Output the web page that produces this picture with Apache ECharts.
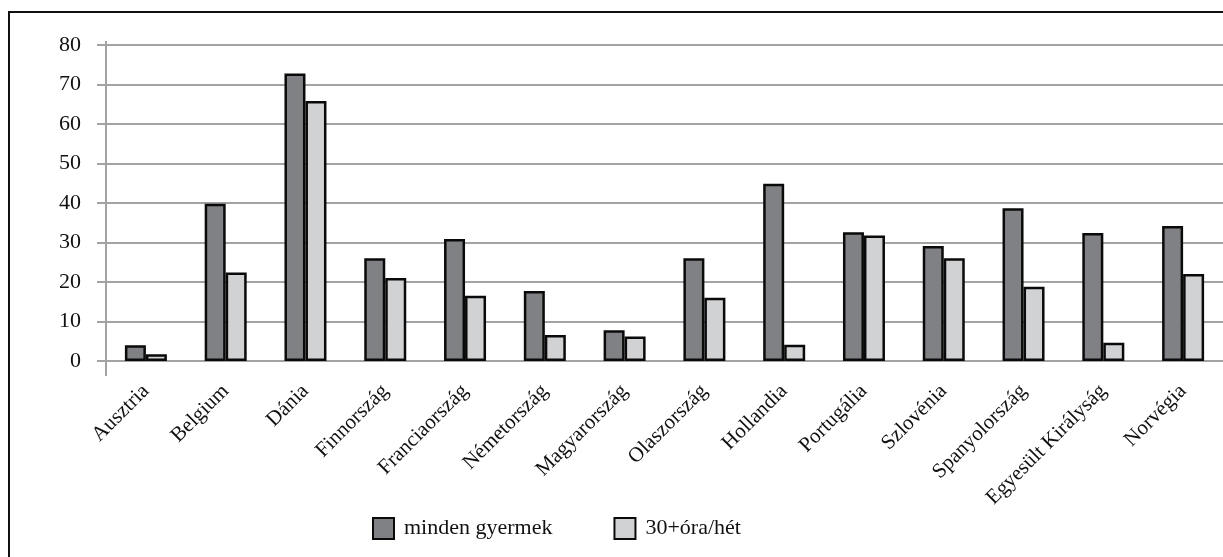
<!DOCTYPE html>
<html>
<head>
<meta charset="utf-8">
<script src="https://cdn.jsdelivr.net/npm/echarts@6/dist/echarts.min.js"></script>
<style>
html,body{margin:0;padding:0;background:#fff;}
#chart{position:absolute;left:0;top:0;width:1223px;height:557px;}
#frame{position:absolute;left:8px;top:11px;width:1300px;height:700px;border-left:2px solid #111;border-top:2px solid #111;pointer-events:none;}
</style>
</head>
<body>
<div id="chart"></div>
<div id="frame"></div>
<script>
const categories = ['Ausztria','Belgium','Dánia','Finnország','Franciaország','Németország','Magyarország','Olaszország','Hollandia','Portugália','Szlovénia','Spanyolország','Egyesült Királyság','Norvégia'];
const seriesNames = ['minden gyermek','30+óra/hét'];
const mindenGyermek = [4.0, 39.8, 72.8, 26.0, 30.9, 17.7, 7.8, 26.0, 44.9, 32.6, 29.1, 38.7, 32.4, 34.2];
const oraHet = [1.7, 22.4, 65.8, 21.0, 16.5, 6.6, 6.2, 16.0, 4.1, 31.8, 26.0, 18.8, 4.6, 22.0];
const yTicks = [0, 10, 20, 30, 40, 50, 60, 70, 80];

const FONT = '"Liberation Serif", "DejaVu Serif", serif';
const GRID = '#a2a3a5';
const chart = echarts.init(document.getElementById('chart'), null, {renderer:'canvas'});
chart.setOption({
  animation: false,
  backgroundColor: '#fff',
  textStyle: {fontFamily: FONT},
  grid: {left: 106, top: 45, width: 1120, height: 316, containLabel: false},
  legend: {
    left: 367, top: 512,
    itemWidth: 21, itemHeight: 21, itemGap: 61,
    icon: 'rect',
    textStyle: {fontFamily: FONT, fontSize: 22, color: '#111', padding: [0, 0, 0, 5]},
    data: seriesNames
  },
  xAxis: {
    type: 'category',
    data: categories,
    axisLine: {show: true, lineStyle: {color: GRID, width: 2}},
    axisTick: {show: false},
    axisLabel: {rotate: 45, margin: 27, interval: 0, fontFamily: FONT, fontSize: 21, color: '#111'}
  },
  yAxis: {
    type: 'value',
    min: yTicks[0], max: yTicks[yTicks.length-1], interval: 10,
    axisLine: {show: true, lineStyle: {color: GRID, width: 2}},
    axisTick: {show: true, length: 9, lineStyle: {color: GRID, width: 2}},
    splitLine: {show: true, lineStyle: {color: GRID, width: 2}},
    axisLabel: {margin: 25, fontFamily: FONT, fontSize: 22, color: '#111'}
  },
  series: [
    {name: seriesNames[0], type: 'bar', data: mindenGyermek, barWidth: 21, barGap: '0%',
     itemStyle: {color: '#808184', borderColor: '#0a0a0a', borderWidth: 2.5}},
    {name: seriesNames[1], type: 'bar', data: oraHet, barWidth: 21,
     itemStyle: {color: '#d1d2d4', borderColor: '#0a0a0a', borderWidth: 2.5}}
  ]
});
// extend the vertical axis line slightly beyond the plot (as in the reference)
const yTop = chart.convertToPixel({yAxisIndex: 0}, yTicks[yTicks.length-1]);
const yBottom = chart.convertToPixel({yAxisIndex: 0}, yTicks[0]);
const rect = chart.getModel().getComponent('grid').coordinateSystem.getRect();
chart.setOption({
  graphic: [{
    type: 'line', z: 0, silent: true,
    shape: {x1: rect.x, y1: yTop - 4, x2: rect.x, y2: yBottom + 15},
    style: {stroke: GRID, lineWidth: 2}
  }]
});
</script>
</body>
</html>
